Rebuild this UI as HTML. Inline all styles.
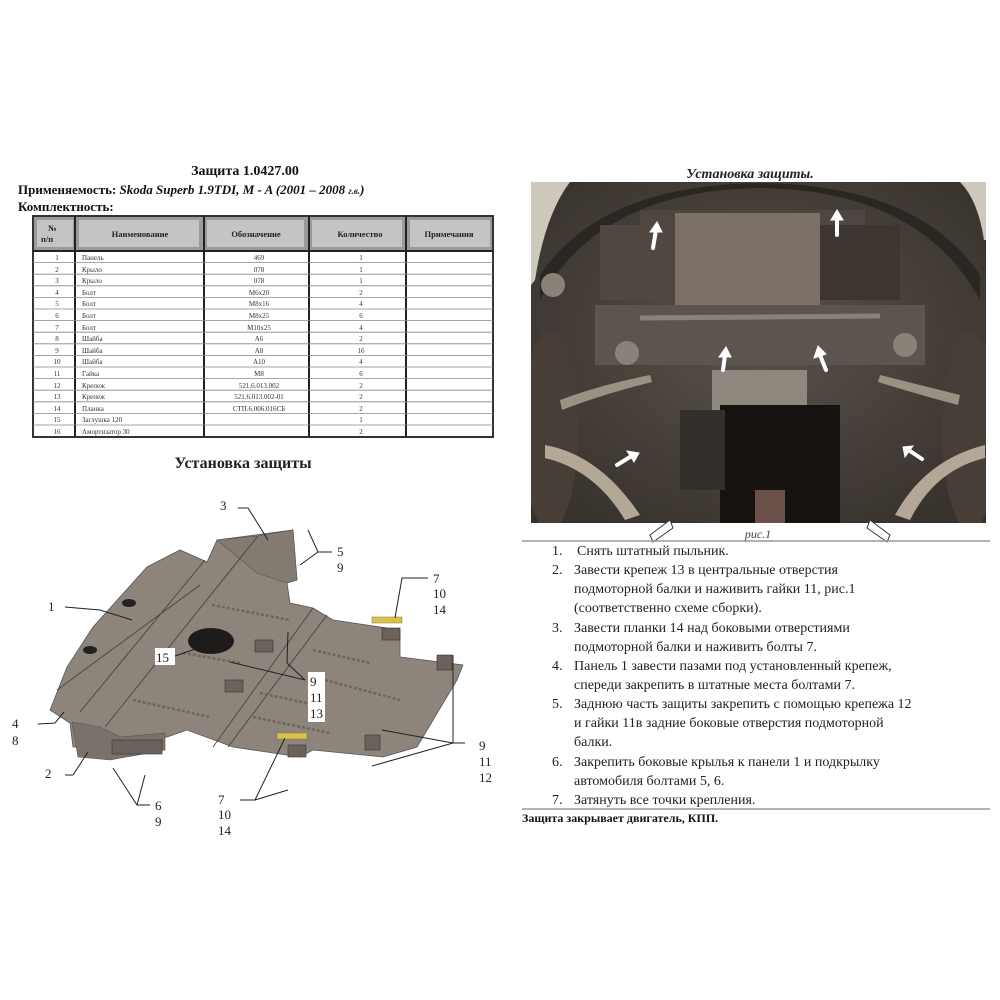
<!DOCTYPE html>
<html><head><meta charset="utf-8"><style>
body{margin:0;background:#fff;}
svg{display:block;font-family:"Liberation Serif","Noto Serif CJK SC",serif;}
</style></head><body>
<svg width="1000" height="1000" viewBox="0 0 1000 1000" xmlns="http://www.w3.org/2000/svg">
<rect width="1000" height="1000" fill="#fff"/>
<!-- LEFT HEADER -->
<text x="245" y="175" font-size="14" font-weight="bold" text-anchor="middle" fill="#111">Защита 1.0427.00</text>
<text x="18" y="194" font-size="13" font-weight="bold" fill="#111">Применяемость: <tspan font-style="italic">Skoda Superb 1.9TDI, M - A (2001 – 2008 <tspan font-size="9">г.в.</tspan>)</tspan></text>
<text x="18" y="211" font-size="13" font-weight="bold" fill="#111">Комплектность:</text>
<!-- TABLE -->
<rect x="33" y="216" width="460" height="221" stroke="#333" fill="none" stroke-width="2"/>
<rect x="34" y="217" width="458" height="33" fill="#9a9a9a"/>
<g fill="#c4c4c4"><rect x="37" y="220" width="36" height="27"/><rect x="79" y="220" width="120" height="27"/><rect x="207" y="220" width="97" height="27"/><rect x="312" y="220" width="90" height="27"/><rect x="410" y="220" width="80" height="27"/></g>
<g stroke="#222" stroke-width="2"><line x1="33" y1="251" x2="493" y2="251"/><line x1="75" y1="216" x2="75" y2="437"/><line x1="204" y1="216" x2="204" y2="437"/><line x1="309" y1="216" x2="309" y2="437"/><line x1="406" y1="216" x2="406" y2="437"/></g>
<g stroke="#888" stroke-width="0.8">
<line x1="33" y1="262.6" x2="493" y2="262.6"/><line x1="33" y1="274.2" x2="493" y2="274.2"/><line x1="33" y1="285.8" x2="493" y2="285.8"/><line x1="33" y1="297.4" x2="493" y2="297.4"/><line x1="33" y1="309" x2="493" y2="309"/><line x1="33" y1="320.6" x2="493" y2="320.6"/><line x1="33" y1="332.2" x2="493" y2="332.2"/><line x1="33" y1="343.8" x2="493" y2="343.8"/><line x1="33" y1="355.4" x2="493" y2="355.4"/><line x1="33" y1="367" x2="493" y2="367"/><line x1="33" y1="378.6" x2="493" y2="378.6"/><line x1="33" y1="390.2" x2="493" y2="390.2"/><line x1="33" y1="401.8" x2="493" y2="401.8"/><line x1="33" y1="413.4" x2="493" y2="413.4"/><line x1="33" y1="425" x2="493" y2="425"/>
</g>
<g font-size="8.5" font-weight="bold" fill="#222">
<text x="48" y="231">№</text><text x="41" y="242">п/п</text>
<text x="140" y="237" text-anchor="middle">Наименование</text>
<text x="256" y="237" text-anchor="middle">Обозначение</text>
<text x="360" y="237" text-anchor="middle">Количество</text>
<text x="449" y="237" text-anchor="middle">Примечания</text>
</g>
<g font-size="7" fill="#333">
<g text-anchor="middle">
<text x="57" y="260">1</text><text x="57" y="272">2</text><text x="57" y="283">3</text><text x="57" y="295">4</text><text x="57" y="306">5</text><text x="57" y="318">6</text><text x="57" y="330">7</text><text x="57" y="341">8</text><text x="57" y="353">9</text><text x="57" y="364">10</text><text x="57" y="376">11</text><text x="57" y="388">12</text><text x="57" y="399">13</text><text x="57" y="411">14</text><text x="57" y="422">15</text><text x="57" y="434">16</text>
<text x="259" y="260">469</text><text x="259" y="272">078</text><text x="259" y="283">078</text><text x="259" y="295">M6x20</text><text x="259" y="306">M8x16</text><text x="259" y="318">M8x25</text><text x="259" y="330">M10x25</text><text x="259" y="341">A6</text><text x="259" y="353">A8</text><text x="259" y="364">A10</text><text x="259" y="376">M8</text><text x="259" y="388">521.6.013.002</text><text x="259" y="399">521.6.013.002-01</text><text x="259" y="411">СТП.6.006.016СБ</text>
<text x="361" y="260">1</text><text x="361" y="272">1</text><text x="361" y="283">1</text><text x="361" y="295">2</text><text x="361" y="306">4</text><text x="361" y="318">6</text><text x="361" y="330">4</text><text x="361" y="341">2</text><text x="361" y="353">16</text><text x="361" y="364">4</text><text x="361" y="376">6</text><text x="361" y="388">2</text><text x="361" y="399">2</text><text x="361" y="411">2</text><text x="361" y="422">1</text><text x="361" y="434">2</text>
</g>
<text x="82" y="260">Панель</text><text x="82" y="272">Крыло</text><text x="82" y="283">Крыло</text><text x="82" y="295">Болт</text><text x="82" y="306">Болт</text><text x="82" y="318">Болт</text><text x="82" y="330">Болт</text><text x="82" y="341">Шайба</text><text x="82" y="353">Шайба</text><text x="82" y="364">Шайба</text><text x="82" y="376">Гайка</text><text x="82" y="388">Крепеж</text><text x="82" y="399">Крепеж</text><text x="82" y="411">Планка</text><text x="82" y="422">Заглушка 120</text><text x="82" y="434">Амортизатор 30</text>
</g>
<text x="243" y="468" font-size="16" font-weight="bold" text-anchor="middle" fill="#222">Установка защиты</text>

<!-- DIAGRAM -->
<polygon points="50,710 67,667 93,627 147,567 180,550 207,562 217,540 293,530 297,580 287,583 290,603 313,608 333,620 400,630 400,657 463,665 457,680 417,747 383,757 313,750 300,757 233,747 187,730 167,737 110,747 73,747 70,723" fill="#8d847b" stroke="#555" stroke-width="0.8"/>
<polygon points="72,722 100,727 120,737 165,733 165,750 110,760 78,757" fill="#7a726a" stroke="#555" stroke-width="0.6"/>
<polygon points="217,540 258,536 293,530 297,580 287,583 257,573" fill="#837a71" stroke="#555" stroke-width="0.6"/>
<g stroke="#4a443e" stroke-width="0.9" fill="none">
<line x1="205" y1="560" x2="80" y2="712"/><line x1="258" y1="536" x2="105" y2="727"/>
<line x1="313" y1="608" x2="213" y2="747"/><line x1="327" y1="615" x2="228" y2="747"/>
<line x1="57" y1="690" x2="200" y2="585"/>
</g>
<g stroke="#6e665e" stroke-width="2.5" stroke-dasharray="3 2" fill="none">
<line x1="212" y1="605" x2="290" y2="620"/><line x1="313" y1="650" x2="370" y2="663"/><line x1="253" y1="717" x2="330" y2="733"/><line x1="133" y1="700" x2="210" y2="717"/><line x1="183" y1="653" x2="240" y2="663"/><line x1="260" y1="693" x2="315" y2="705"/><line x1="325" y1="680" x2="400" y2="700"/>
</g>
<ellipse cx="211" cy="641" rx="23" ry="13" fill="#1e1c1a"/>
<ellipse cx="129" cy="603" rx="7" ry="4" fill="#222"/><ellipse cx="90" cy="650" rx="7" ry="4" fill="#222"/>
<g fill="#6a625b" stroke="#3a3530" stroke-width="0.6">
<rect x="255" y="640" width="18" height="12"/><rect x="225" y="680" width="18" height="12"/><rect x="382" y="628" width="18" height="12"/><rect x="437" y="655" width="15" height="15"/><rect x="365" y="735" width="15" height="15"/><rect x="288" y="745" width="18" height="12"/><rect x="112" y="740" width="50" height="14"/>
</g>
<g fill="#d8c24a" stroke="#8a7a20" stroke-width="0.5"><rect x="372" y="617" width="30" height="6"/><rect x="277" y="733" width="30" height="6"/></g>
<g font-family="'Liberation Serif',serif" font-size="13" fill="#222">
<text x="220" y="510">3</text><text x="337" y="556">5</text><text x="337" y="572">9</text>
<text x="433" y="583">7</text><text x="433" y="598">10</text><text x="433" y="614">14</text>
<text x="48" y="611">1</text>
<rect x="155" y="648" width="20" height="17" fill="#fff"/><text x="156" y="662">15</text>
<rect x="308" y="672" width="17" height="50" fill="#fff"/><text x="310" y="686">9</text><text x="310" y="702">11</text><text x="310" y="718">13</text>
<text x="12" y="728">4</text><text x="12" y="745">8</text>
<text x="45" y="778">2</text>
<text x="155" y="810">6</text><text x="155" y="826">9</text>
<text x="479" y="750">9</text><text x="479" y="766">11</text><text x="479" y="782">12</text>
<text x="218" y="804">7</text><text x="218" y="819">10</text><text x="218" y="835">14</text>
</g>
<g stroke="#222" stroke-width="1" fill="none">
<polyline points="238,508 248,508 268,540"/><polyline points="332,552 318,552 308,530"/><line x1="318" y1="552" x2="300" y2="565"/>
<polyline points="428,578 402,578 395,618"/>
<polyline points="65,607 100,610 132,620"/>
<line x1="175" y1="656" x2="213" y2="643"/>
<polyline points="305,680 287,663 288,632"/><line x1="305" y1="680" x2="230" y2="662"/>
<polyline points="38,724 55,723 64,712"/><polyline points="65,775 73,775 88,752"/>
<polyline points="150,805 137,805 113,768"/><line x1="137" y1="805" x2="145" y2="775"/>
<polyline points="465,743 453,743 453,655"/><line x1="453" y1="743" x2="372" y2="766"/><line x1="453" y1="743" x2="382" y2="730"/>
<polyline points="240,800 255,800 285,738"/><line x1="255" y1="800" x2="288" y2="790"/>
</g>

<!-- PHOTO -->
<text x="750" y="178" font-size="14" font-weight="bold" font-style="italic" text-anchor="middle" fill="#222">Установка защиты.</text>
<defs>
<radialGradient id="pg" cx="0.5" cy="0.45" r="0.65"><stop offset="0" stop-color="#5a524a"/><stop offset="1" stop-color="#38322d"/></radialGradient>
<clipPath id="pc"><rect x="531" y="182" width="455" height="341"/></clipPath>
</defs>
<g clip-path="url(#pc)">
<rect x="531" y="182" width="455" height="341" fill="url(#pg)"/>
<path d="M531,182 L570,182 Q545,215 535,280 L531,285Z" fill="#cfc8bc"/>
<path d="M986,182 L960,182 Q978,200 984,240 L986,240Z" fill="#cfc8bc"/>
<path d="M540,300 Q600,190 760,188 Q920,190 980,300 L980,275 Q920,185 760,183 Q600,185 540,275Z" fill="#2a2622"/>
<rect x="640" y="210" width="225" height="20" fill="#4e4740"/>
<rect x="675" y="213" width="145" height="100" fill="#7b7166"/>
<rect x="600" y="225" width="75" height="75" fill="#504840"/>
<rect x="820" y="225" width="80" height="75" fill="#3c3530"/>
<circle cx="553" cy="285" r="12" fill="#8a8278"/>
<ellipse cx="550" cy="430" rx="28" ry="100" fill="#463e37"/>
<ellipse cx="970" cy="430" rx="28" ry="100" fill="#463e37"/>
<rect x="595" y="305" width="330" height="60" fill="#5c554e"/>
<line x1="640" y1="318" x2="880" y2="316" stroke="#8a8278" stroke-width="5"/>
<circle cx="627" cy="353" r="12" fill="#8a8278"/><circle cx="905" cy="345" r="12" fill="#8a8278"/>
<rect x="712" y="370" width="95" height="40" fill="#8f887e"/>
<rect x="720" y="405" width="120" height="118" fill="#151210"/>
<rect x="680" y="410" width="45" height="80" fill="#33302b"/>
<path d="M545,445 Q600,455 640,515 L625,520 Q595,470 545,458Z" fill="#b3a898"/>
<path d="M985,445 Q925,460 895,515 L910,520 Q935,470 985,458Z" fill="#b3a898"/>
<path d="M560,400 Q600,385 650,375 L652,382 Q600,395 562,410Z" fill="#9a9184"/>
<path d="M960,395 Q920,385 880,375 L878,382 Q920,395 958,405Z" fill="#9a9184"/>
<rect x="755" y="490" width="30" height="33" fill="#6a5048"/>
</g>
<g fill="#fff" stroke="#fff" stroke-width="4" stroke-linecap="round">
<line x1="653" y1="248" x2="656" y2="230"/><polygon points="650,232 662,232 657,222" stroke-width="1"/>
<line x1="837" y1="235" x2="837" y2="218"/><polygon points="831,220 843,220 837,210" stroke-width="1"/>
<line x1="723" y1="370" x2="725" y2="355"/><polygon points="719,357 731,357 726,347" stroke-width="1"/>
<line x1="826" y1="370" x2="820" y2="355"/><polygon points="814,358 826,354 818,346" stroke-width="1"/>
<line x1="617" y1="465" x2="630" y2="457"/><polygon points="627,451 634,462 639,453" stroke-width="1"/>
<line x1="922" y1="459" x2="910" y2="451"/><polygon points="905,457 913,446 903,447" stroke-width="1"/>
</g>
<g fill="#fff" stroke="#333" stroke-width="1"><polygon points="650,535 670,520 673,528 653,542"/><polygon points="890,535 870,520 867,528 887,542"/></g>
<text x="758" y="538" font-size="12" font-style="italic" text-anchor="middle" fill="#444">рис.1</text>
<line x1="522" y1="541" x2="990" y2="541" stroke="#999" stroke-width="1.5"/>
<g font-size="14" fill="#222">
<text x="552" y="555">1.</text><text x="577" y="555">Снять штатный пыльник.</text>
<text x="552" y="574">2.</text><text x="574" y="574">Завести крепеж 13 в центральные отверстия</text>
<text x="574" y="593">подмоторной балки и наживить гайки 11, рис.1</text>
<text x="574" y="612">(соответственно схеме сборки).</text>
<text x="552" y="632">3.</text><text x="574" y="632">Завести планки 14 над боковыми отверстиями</text>
<text x="574" y="651">подмоторной балки и наживить болты 7.</text>
<text x="552" y="670">4.</text><text x="574" y="670">Панель 1 завести пазами под установленный крепеж,</text>
<text x="574" y="689">спереди закрепить в штатные места болтами 7.</text>
<text x="552" y="708">5.</text><text x="574" y="708">Заднюю часть защиты закрепить с помощью крепежа 12</text>
<text x="574" y="727">и гайки 11в задние боковые отверстия подмоторной</text>
<text x="574" y="746">балки.</text>
<text x="552" y="766">6.</text><text x="574" y="766">Закрепить боковые крылья к панели 1 и подкрылку</text>
<text x="574" y="785">автомобиля болтами 5, 6.</text>
<text x="552" y="804">7.</text><text x="574" y="804">Затянуть все точки крепления.</text>
</g>
<line x1="522" y1="809" x2="990" y2="809" stroke="#999" stroke-width="1.5"/>
<text x="522" y="822" font-size="12" font-weight="bold" fill="#111">Защита закрывает двигатель, КПП.</text>
</svg>
</body></html>
